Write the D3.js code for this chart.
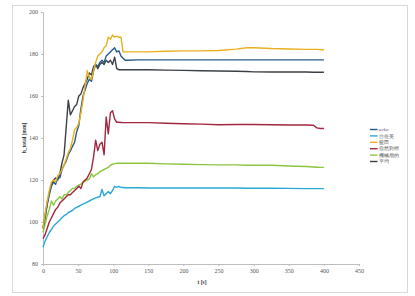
<!DOCTYPE html>
<html><head><meta charset="utf-8">
<script src="https://cdn.jsdelivr.net/npm/d3@7"></script>
<style>body{margin:0;background:#fff}svg{display:block}text{font-family:"Liberation Serif","DejaVu Serif",serif}</style>
</head><body>
<svg id="c" width="415" height="296"></svg>
<script>
const time = [0,3,6,9,12,15,18,21,24,27,30,33,36,39,42,45,48,51,54,57,60,63,66,69,72,75,78,81,84,87,90,93,96,99,102,105,108,111,114,117,120,135,150,175,200,225,250,275,290,300,325,350,375,385,390,395,400];
const seriesNames = ["serko","台佐英","藍田","自然對檔","機械扇的","平均"];
const serko = [97,102,108,113,117,119,118,121,121,125,127,129,132,134,136,138,143,146,154,160,163,166,168,167,172,175,174,176,177,176,179,180,181,182,183,181,181.5,179,178,177,177,177.2,177.2,177.2,177.2,177.2,177.2,177.2,177.2,177.2,177.2,177.2,177.2,177.2,177.2,177.2,177.2];
const cyan = [88,91,93,95,96.5,98,99,100,101,102,103,103.5,104.5,105,105.5,106.5,107,107.5,108,108.5,109,109.5,110,110.5,111,111.5,111.8,112,115.5,112.5,113.5,114.5,113.5,115,117,116.5,117,116.5,116.4,116.3,116.3,116.3,116.2,116.2,116.2,116.2,116.2,116.2,116.1,116.1,116.1,116,115.9,115.9,115.9,115.9,115.9];
const yellow = [97,104,110,115,119,120,119,122,123,125,127,130,133,135,139,144,145,147,152,158,165,172,169,168,172,176,179,180,181,183,184,188,187,189,188,188.5,188,188,181,181,181,181,181,181.3,181.5,181.5,181.7,182.3,183,183,182.6,182.4,182.2,182.2,182.2,182.1,182];
const red = [92,94,97,100,102,104,106,107,109,110,111,112,113,113,114,115,116,117,116,119,120,121,123,125,131,139,134,137,138,132,150,142,152,153,149,147.5,147.5,147.4,147.3,147.3,147.3,147.3,147.3,147,146.8,146.6,146.3,146.4,146.4,146.4,146.3,146.2,146.2,146.1,144.8,144.5,144.5];
const green = [95,99,103,106,110,108,110,111,112,111,113,113,114,115,116,116,117,117.5,118,119,119.5,120,120.5,123,121.5,122.5,123,124,124.5,125,125.5,126,127,127.5,127.8,128,128,128,128,128,128,128,128,127.7,127.5,127.3,127.2,127.2,127,127,127,126.7,126.4,126.2,126.1,126,126];
const gray = [97,103,109,114,118,120,121,120,123,128,132,145,158,151,153,155,156,160,161,164,166,168,171,170,174,175,173,175,176,175,177,176,177,175,178.5,173,172.5,172.5,172.5,172.5,172.5,172.5,172.5,172.3,172.2,172,171.9,171.8,171.7,171.5,171.4,171.4,171.4,171.3,171.3,171.3,171.3];
const xTicks = [0,50,100,150,200,250,300,350,400,450];
const yTicks = [80,100,120,140,160,180,200];
const colors = ["#285a87","#2aa8d6","#e8b01e","#a2263e","#8cc53f","#3b4046"];
const allSeries = [serko,cyan,yellow,red,green,gray];

const svg = d3.select("#c");
svg.append("rect").attr("x",12.5).attr("y",5.5).attr("width",395).attr("height",287).attr("fill","none").attr("stroke","#d9d9d9").attr("stroke-width",1);

const x = d3.scaleLinear().domain([0,450]).range([43,359]);
const y = d3.scaleLinear().domain([80,200]).range([264,12]);

const xa = svg.append("g").attr("transform","translate(0,264)").call(d3.axisBottom(x).tickValues(xTicks).tickSize(2).tickPadding(3));
const ya = svg.append("g").attr("transform","translate(43,0)").call(d3.axisLeft(y).tickValues(yTicks).tickSize(2).tickPadding(3));
[xa,ya].forEach(a=>{
  a.select(".domain").attr("stroke","#bdbdbd");
  a.selectAll(".tick line").attr("stroke","#bdbdbd");
  a.selectAll("text").attr("font-size",6).attr("fill","#555").attr("font-family","Liberation Serif, serif");
});

const line = d3.line().x((d,i)=>x(time[i])).y(d=>y(d));
[1,4,3,5,0,2].forEach(k=>{
  svg.append("path").datum(allSeries[k]).attr("d",line).attr("fill","none")
    .attr("stroke",colors[k]).attr("stroke-width",1.4).attr("stroke-linejoin","round");
});

svg.append("text").attr("transform","translate(26,138) rotate(-90)").attr("text-anchor","middle")
  .attr("font-size",5.5).attr("font-weight","bold").attr("fill","#333").text("h_total [mm]");
svg.append("text").attr("x",202).attr("y",284).attr("text-anchor","middle")
  .attr("font-size",5.5).attr("font-weight","bold").attr("fill","#333").text("t [s]");

const lg = svg.append("g");
seriesNames.forEach((n,i)=>{
  const yy = 129.5 + i*6.4;
  lg.append("line").attr("x1",370).attr("x2",377.5).attr("y1",yy).attr("y2",yy).attr("stroke",colors[i]).attr("stroke-width",1.4);
  lg.append("text").attr("x",378.5).attr("y",yy+1.6).attr("font-size",4.5).attr("fill","#555")
    .attr("font-family","Noto Sans CJK TC, sans-serif").text(n);
});
</script>
</body></html>
